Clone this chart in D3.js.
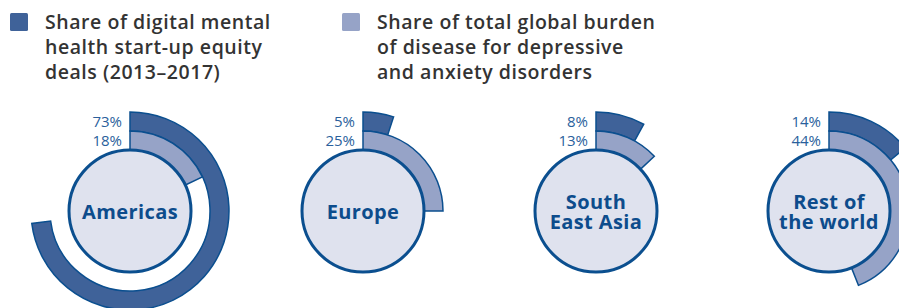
<!DOCTYPE html>
<html>
<head>
<meta charset="utf-8">
<script src="https://cdn.jsdelivr.net/npm/d3@7"></script>
<style>
	body { margin: 0; background: #fff; }
	svg { display: block; font-family: "Open Sans", Lato, sans-serif; }
</style>
</head>
<body>
<svg id="chart" width="899" height="308"></svg>
<script>
// regions and their two shares (percent)
var regions = ['Americas', 'Europe', 'South East Asia', 'Rest of the world'];
var regionLines = [['Americas'], ['Europe'], ['South', 'East Asia'], ['Rest of', 'the world']];
var dealShare = [73, 5, 8, 14];
var burdenShare = [18, 25, 13, 44];

var legendLabels = [
	['Share of digital mental', 'health start-up equity', 'deals (2013\u20132017)'],
	['Share of total global burden', 'of disease for depressive', 'and anxiety disorders']
];

var colors = {
	deal: '#3f6299',
	burden: '#96a3c7',
	circle: '#dfe2ee',
	stroke: '#0b4f8f',
	pct: '#2a5f9c',
	label: '#0d4c8c'
};

var svg = d3.select('#chart');

var x = d3.scalePoint()
	.domain(regions)
	.range([130, 829]);

var angle = d3.scaleLinear()
	.domain([0, 100])
	.range([0, 2 * Math.PI]);

var cy = 211,
	rCircle = 61,
	rMid = 80,
	rOuter = 99;

// legend
var legend = svg.selectAll('g.legend')
	.data(legendLabels)
	.enter()
	.append('g')
	.attr('class', 'legend')
	.attr('transform', function(d, i){ return 'translate(' + [10 + i * 332, 0] + ')'; });

legend.append('rect')
	.attr('x', 0).attr('y', 13)
	.attr('width', 18).attr('height', 18)
	.attr('rx', 1.5)
	.attr('fill', function(d, i){ return i === 0 ? colors.deal : colors.burden; });

legend.append('text')
	.attr('fill', '#333')
	.style('font-size', '19.5px')
	.style('font-weight', 600)
	.style('letter-spacing', '0.55px')
	.selectAll('tspan')
	.data(function(d){ return d; })
	.enter()
	.append('tspan')
	.attr('x', 35)
	.attr('y', function(d, i){ return 29 + i * 25; })
	.text(function(d){ return d; });

// donuts
var arc = d3.arc();

var g = svg.selectAll('g.region')
	.data(regions)
	.enter()
	.append('g')
	.attr('class', 'region')
	.attr('transform', function(d){ return 'translate(' + [x(d), cy] + ')'; });

g.append('path')
	.attr('fill', colors.deal)
	.attr('stroke', colors.stroke)
	.attr('stroke-width', 1.5)
	.attr('d', function(d, i){
		return arc({innerRadius: rMid, outerRadius: rOuter, startAngle: 0, endAngle: angle(dealShare[i])});
	});

g.append('path')
	.attr('fill', colors.burden)
	.attr('stroke', colors.stroke)
	.attr('stroke-width', 1.5)
	.attr('d', function(d, i){
		return arc({innerRadius: rCircle - 2, outerRadius: rMid, startAngle: 0, endAngle: angle(burdenShare[i])});
	});

g.append('circle')
	.attr('r', rCircle)
	.attr('fill', colors.circle)
	.attr('stroke', colors.stroke)
	.attr('stroke-width', 3);

g.append('text')
	.attr('x', -8).attr('y', -84)
	.attr('text-anchor', 'end')
	.attr('fill', colors.pct)
	.style('font-size', '15px')
	.text(function(d, i){ return dealShare[i] + '%'; });

g.append('text')
	.attr('x', -8).attr('y', -65)
	.attr('text-anchor', 'end')
	.attr('fill', colors.pct)
	.style('font-size', '15px')
	.text(function(d, i){ return burdenShare[i] + '%'; });

// region names, one text per line
g.each(function(d, i){
	var lines = regionLines[i];
	d3.select(this).selectAll('text.name')
		.data(lines)
		.enter()
		.append('text')
		.attr('class', 'name')
		.attr('x', 0)
		.attr('y', function(l, j){ return 8 + (j - (lines.length - 1) / 2) * 20; })
		.attr('text-anchor', 'middle')
		.attr('fill', colors.label)
		.style('font-size', '20px')
		.style('font-weight', 700)
		.style('letter-spacing', '0.4px')
		.text(function(l){ return l; });
});
</script>
</body>
</html>
